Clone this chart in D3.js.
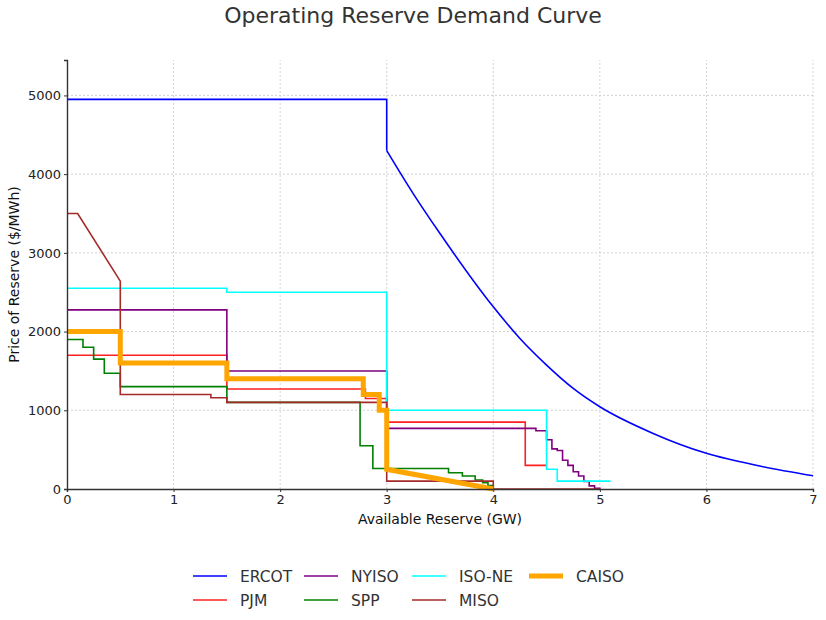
<!DOCTYPE html>
<html>
<head>
<meta charset="utf-8">
<script src="https://cdn.jsdelivr.net/npm/d3@7"></script>
<style>
  body { margin: 0; background: #fff; }
  svg { font-family: "DejaVu Sans", sans-serif; }
</style>
</head>
<body>
<div id="chart"></div>
<script>
// values: [GW, $/MWh]
var ercotFlat = [[0, 4950], [3.0, 4950], [3.0, 4300]];
var ercotCurve = [[3.0, 4300], [3.25, 3750], [3.5, 3245], [4.0, 2314], [4.25, 1912], [4.5, 1574],
    [4.75, 1278], [5.0, 1045], [5.5, 706], [6.0, 453], [6.5, 292], [7.0, 168]];

// step series (value holds from x until next x)
var pjm = [[0, 1700], [1.5, 1270], [2.8, 1150], [3.0, 850], [4.3, 300], [4.5, 300]];
var nyiso = [[0, 2275], [1.5, 1500], [3.0, 770], [4.4, 740], [4.5, 625], [4.55, 510], [4.6, 490],
    [4.65, 365], [4.7, 300], [4.75, 220], [4.8, 165], [4.85, 95], [4.9, 40], [4.95, 10], [5.0, 0]];
var spp = [[0, 1900], [0.15, 1800], [0.25, 1650], [0.35, 1470], [0.5, 1300], [1.5, 1100], [2.75, 550],
    [2.87, 260], [3.58, 207], [3.71, 165], [3.83, 115], [3.9, 80], [3.95, 45], [4.0, 0]];
var isone = [[0, 2550], [1.5, 2500], [3.0, 1000], [4.5, 250], [4.6, 100], [5.1, 100]];

// vertex series (drawn point to point)
var miso = [[0, 3500], [0.1, 3500], [0.5, 2640], [0.5, 1200], [1.35, 1200], [1.35, 1160], [1.5, 1160],
    [1.5, 1100], [3.0, 1100], [3.0, 100], [4.0, 100], [4.0, 0], [5.0, 0]];
var caiso = [[0, 2000], [0.5, 2000], [0.5, 1600], [1.5, 1600], [1.5, 1400], [2.78, 1400], [2.78, 1200],
    [2.93, 1200], [2.93, 1000], [3.0, 1000], [3.0, 250], [4.0, 0]];

var xTicks = [0, 1, 2, 3, 4, 5, 6, 7];
var yTicks = [0, 1000, 2000, 3000, 4000, 5000];

var W = 826, H = 620;
var margin = {top: 60, right: 13, bottom: 131, left: 67};

var svg = d3.select("#chart").append("svg")
    .attr("width", W)
    .attr("height", H);

var x = d3.scaleLinear().domain([0, 7]).range([margin.left, W - margin.right]);
var y = d3.scaleLinear().domain([0, 5450]).range([H - margin.bottom, margin.top]);

// grid
svg.append("g").selectAll("line")
    .data(xTicks.slice(1))
    .join("line")
    .attr("x1", d => x(d)).attr("x2", d => x(d))
    .attr("y1", y.range()[0]).attr("y2", y.range()[1])
    .attr("stroke", "#c8c8c8").attr("stroke-width", 0.8).attr("stroke-dasharray", "2,2");
svg.append("g").selectAll("line")
    .data(yTicks.slice(1))
    .join("line")
    .attr("y1", d => y(d)).attr("y2", d => y(d))
    .attr("x1", x.range()[0]).attr("x2", x.range()[1])
    .attr("stroke", "#c8c8c8").attr("stroke-width", 0.8).attr("stroke-dasharray", "2,2");

var series = [
    {name: "ERCOT", color: "#0000ff", width: 1.6},
    {name: "PJM", color: "#ff2020", width: 1.6, data: pjm, curve: d3.curveStepAfter},
    {name: "NYISO", color: "#800080", width: 1.6, data: nyiso, curve: d3.curveStepAfter},
    {name: "SPP", color: "#008000", width: 1.6, data: spp, curve: d3.curveStepAfter},
    {name: "ISO-NE", color: "#00ffff", width: 1.6, data: isone, curve: d3.curveStepAfter},
    {name: "MISO", color: "#a52a2a", width: 1.6, data: miso, curve: d3.curveLinear},
    {name: "CAISO", color: "#ffa500", width: 5, data: caiso, curve: d3.curveLinear}
];

var line = curve => d3.line().x(d => x(d[0])).y(d => y(d[1])).curve(curve);

var plot = svg.append("g");
// ERCOT: flat cap, drop, then the falling curve
plot.append("path")
    .attr("d", line(d3.curveLinear)(ercotFlat))
    .attr("fill", "none").attr("stroke", series[0].color).attr("stroke-width", series[0].width);
plot.append("path")
    .attr("d", line(d3.curveMonotoneX)(ercotCurve))
    .attr("fill", "none").attr("stroke", series[0].color).attr("stroke-width", series[0].width);

plot.selectAll("path.s")
    .data(series.slice(1))
    .join("path")
    .attr("class", "s")
    .attr("d", d => line(d.curve)(d.data))
    .attr("fill", "none")
    .attr("stroke", d => d.color)
    .attr("stroke-width", d => d.width)
    .attr("stroke-linejoin", "miter");

// axes
var xAxis = svg.append("g")
    .attr("transform", `translate(0,${y(0)})`)
    .call(d3.axisBottom(x).tickValues(xTicks).tickSize(3).tickPadding(3).tickFormat(d3.format("d")));
var yAxis = svg.append("g")
    .attr("transform", `translate(${x(0)},0)`)
    .call(d3.axisLeft(y).tickValues(yTicks).tickSize(3).tickPadding(3).tickFormat(d3.format("d")));
[xAxis, yAxis].forEach(a => {
    a.select(".domain").attr("stroke", "#333").attr("stroke-width", 1.4);
    a.selectAll(".tick line").attr("stroke", "#333");
    a.selectAll(".tick text").attr("fill", "#222").style("font-size", "13px")
        .style("font-family", "'DejaVu Sans', sans-serif");
});

// titles
svg.append("text")
    .attr("x", 413).attr("y", 23)
    .attr("text-anchor", "middle")
    .attr("fill", "#333")
    .style("font-size", "22px")
    .text("Operating Reserve Demand Curve");
svg.append("text")
    .attr("x", (x.range()[0] + x.range()[1]) / 2).attr("y", 524)
    .attr("text-anchor", "middle")
    .attr("fill", "#111")
    .style("font-size", "14px")
    .text("Available Reserve (GW)");
svg.append("text")
    .attr("transform", `translate(19,${(y.range()[0] + y.range()[1]) / 2}) rotate(-90)`)
    .attr("text-anchor", "middle")
    .attr("fill", "#111")
    .style("font-size", "14px")
    .text("Price of Reserve ($/MWh)");

// legend, filled column by column like matplotlib (2 rows, 4 columns)
var colX = [193, 304, 412, 529];
var rowY = [576, 600];
var legend = svg.append("g").selectAll("g")
    .data(series)
    .join("g")
    .attr("transform", (d, i) => `translate(${colX[Math.floor(i / 2)]},${rowY[i % 2]})`);
legend.append("line")
    .attr("x1", 0).attr("x2", 34)
    .attr("stroke", d => d.color)
    .attr("stroke-width", d => d.width);
legend.append("text")
    .attr("x", 47).attr("y", 0).attr("dy", "0.36em")
    .attr("fill", "#333")
    .style("font-size", "15.5px")
    .text(d => d.name);
</script>
</body>
</html>
